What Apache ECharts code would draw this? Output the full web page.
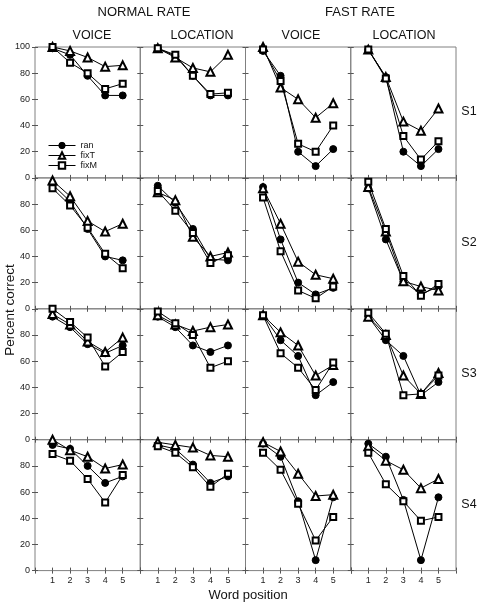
<!DOCTYPE html>
<html>
<head>
<meta charset="utf-8">
<script src="https://cdn.jsdelivr.net/npm/echarts@6/dist/echarts.min.js"></script>
<style>
html,body{margin:0;padding:0;background:#fff;}
#chart{width:478px;height:603px;}
</style>
</head>
<body>
<div id="chart"></div>
<script>
// ---- data ----
const positions = [1, 2, 3, 4, 5];
const xTickLabels = ['1', '2', '3', '4', '5'];
const yTicks = [0, 20, 40, 60, 80, 100];
const rateLabels = ['NORMAL RATE', 'FAST RATE'];
const taskLabels = ['VOICE', 'LOCATION', 'VOICE', 'LOCATION'];
const subjects = ['S1', 'S2', 'S3', 'S4'];
const seriesNames = ['ran', 'fixT', 'fixM'];

// each: [normal voice, normal location, fast voice, fast location]
const s1Ran  = [[99, 94, 78, 63, 63], [99, 93, 78, 63, 63], [97, 78, 20, 9, 22], [98, 77, 20, 9, 22]];
const s1FixT = [[100, 97, 92, 85, 86], [99, 92, 84, 81, 94], [100, 69, 60, 46, 57], [98, 77, 43, 36, 53]];
const s1FixM = [[100, 88, 80, 68, 72], [99, 94, 78, 64, 65], [98, 74, 26, 20, 40], [98, 76, 32, 14, 28]];

const s2Ran  = [[95, 82, 61, 40, 37], [94, 81, 61, 38, 37], [93, 53, 20, 11, 16], [92, 53, 21, 11, 17]];
const s2FixT = [[98, 86, 67, 59, 65], [89, 83, 55, 40, 43], [92, 65, 36, 26, 23], [93, 59, 21, 17, 14]];
const s2FixM = [[92, 79, 62, 42, 31], [90, 75, 58, 35, 41], [85, 44, 14, 8, 17], [97, 61, 25, 10, 19]];

const s3Ran  = [[94, 86, 73, 66, 72], [94, 86, 72, 67, 72], [95, 76, 64, 34, 44], [94, 76, 64, 34, 44]];
const s3FixT = [[96, 88, 75, 67, 78], [95, 88, 83, 86, 88], [95, 82, 72, 49, 57], [94, 80, 49, 35, 51]];
const s3FixM = [[100, 90, 78, 56, 67], [98, 89, 80, 55, 60], [95, 66, 55, 38, 59], [97, 81, 34, 35, 49]];

const s4Ran  = [[96, 93, 80, 67, 72], [96, 93, 81, 67, 72], [97, 87, 53, 8, 56], [97, 87, 54, 8, 56]];
const s4FixT = [[100, 92, 87, 78, 81], [98, 96, 94, 88, 87], [98, 91, 74, 57, 58], [95, 84, 77, 63, 70]];
const s4FixM = [[89, 84, 70, 52, 73], [95, 90, 79, 64, 74], [90, 77, 51, 23, 41], [90, 66, 53, 38, 41]];

const subjectData = [
  [s1Ran, s1FixT, s1FixM],
  [s2Ran, s2FixT, s2FixM],
  [s3Ran, s3FixT, s3FixM],
  [s4Ran, s4FixT, s4FixM]
];

// ---- layout ----
const FONT = 'Liberation Sans, Arial, Helvetica, sans-serif';
const GL = 35, GT = 47, GW = 105.25, GH = 130.9;
const symbols = [
  { symbol: 'circle', size: 7 },
  { symbol: 'emptyTriangle', size: 8 },
  { symbol: 'emptyRect', size: 6 }
];

const grids = [], xAxes = [], yAxes = [], series = [];
for (let r = 0; r < 4; r++) {
  for (let c = 0; c < 4; c++) {
    const g = grids.length;
    grids.push({
      left: GL + c * GW, top: GT + r * GH, width: GW, height: GH,
      show: true, borderColor: '#808080', borderWidth: 1, backgroundColor: 'transparent',
      containLabel: false
    });
    const tickStyle = { show: true, inside: true, length: 3, lineStyle: { color: '#555', width: 1 } };
    const bx = xAxes.length;
    xAxes.push({
      type: 'value', gridIndex: g, position: 'bottom', min: 0, max: 6, interval: 1,
      axisLine: { show: false }, splitLine: { show: false }, axisTick: tickStyle,
      axisLabel: {
        show: r === 3, fontSize: 9, color: '#222', fontFamily: FONT, margin: 5,
        formatter: v => (v >= 1 && v <= 5) ? xTickLabels[v - 1] : ''
      }
    });
    xAxes.push({
      type: 'value', gridIndex: g, position: 'top', min: 0, max: 6, interval: 1,
      axisLine: { show: false }, splitLine: { show: false }, axisTick: tickStyle,
      axisLabel: { show: false }
    });
    const ly = yAxes.length;
    yAxes.push({
      type: 'value', gridIndex: g, position: 'left', min: yTicks[0], max: yTicks[yTicks.length - 1], interval: 20,
      axisLine: { show: false }, splitLine: { show: false }, axisTick: tickStyle,
      axisLabel: {
        show: c === 0, fontSize: 9, color: '#222', fontFamily: FONT, margin: 5,
        formatter: v => (r > 0 && v === 100) ? '' : String(v)
      }
    });
    yAxes.push({
      type: 'value', gridIndex: g, position: 'right', min: 0, max: 100, interval: 20,
      axisLine: { show: false }, splitLine: { show: false }, axisTick: tickStyle,
      axisLabel: { show: false }
    });
    for (let s = 0; s < 3; s++) {
      const vals = subjectData[r][s][c];
      series.push({
        type: 'line', name: seriesNames[s], xAxisIndex: bx, yAxisIndex: ly,
        data: positions.map((p, i) => [p, vals[i]]),
        symbol: symbols[s].symbol, symbolSize: symbols[s].size,
        showAllSymbol: true,
        lineStyle: { color: '#000', width: 1 },
        itemStyle: { color: '#000', borderColor: '#000', borderWidth: 1 },
        emphasis: { disabled: true },
        z: 3 + s
      });
    }
  }
}

const graphics = [];
function txt(x, y, text, size, rot) {
  graphics.push({
    type: 'text', x: x, y: y, rotation: rot || 0,
    style: { text: text, fontSize: size, fontFamily: FONT, fill: '#111', textAlign: 'center', textVerticalAlign: 'middle' }
  });
}
txt(144, 12, rateLabels[0], 13);
txt(360, 12, rateLabels[1], 13);
const taskX = [92, 202, 301, 404];
taskLabels.forEach((t, i) => txt(taskX[i], 36, t, 12.5));
subjects.forEach((s, i) => txt(469, GT + i * GH + 65, s, 12.5));
txt(248, 595, 'Word position', 13);
txt(10, 310, 'Percent correct', 13.5, Math.PI / 2);

const chart = echarts.init(document.getElementById('chart'), null, { renderer: 'canvas' });
chart.setOption({
  animation: false,
  backgroundColor: '#fff',
  grid: grids, xAxis: xAxes, yAxis: yAxes, series: series,
  legend: {
    data: seriesNames, orient: 'vertical', left: 43, top: 136,
    itemWidth: 27, itemHeight: 8, itemGap: 1,
    lineStyle: { width: 1, color: '#000' },
    itemStyle: { borderWidth: 1 },
    textStyle: { fontSize: 9, fontFamily: FONT, color: '#111' },
    selectedMode: false
  },
  graphic: graphics
});
</script>
</body>
</html>
